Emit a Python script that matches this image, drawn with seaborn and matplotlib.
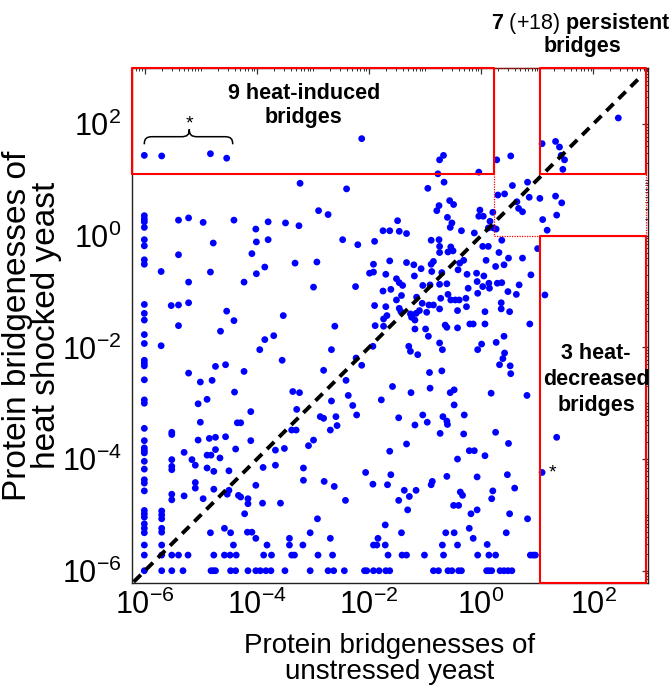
import numpy as np
import pandas as pd
import matplotlib
matplotlib.use("Agg")
import matplotlib.pyplot as plt
import seaborn as sns
from matplotlib.ticker import FixedLocator, LogLocator, NullFormatter, FixedFormatter
from matplotlib.path import Path
from matplotlib.patches import PathPatch

# ---------------- data: log10 of protein bridgeness ----------------
log_unstressed = [
    -6.01, -5.70, -4.83, -4.54, -3.23, -6.01, -6.01, -6.01, -6.01,
    -5.40, -5.22, -4.96, -4.41, -4.02, -3.80, -3.49, -3.25,
    -6.01, -6.01, -4.78, -4.01, -3.80, -6.01, -6.01, -5.40, -4.09,
    -5.71, -4.83, -4.01, -3.86, -3.32, -5.22, -4.23,
    -6.01, -6.01, -6.01, -5.53, -5.40, -5.22, -4.54, -4.41, -3.53,
    -5.40, -4.65, -6.01, -6.01, -5.71, -3.86, -3.70, -3.95,
    -6.01, -6.01, -6.01, -3.55, -4.74, -4.56, -5.22, -4.23,
    -6.01, -5.01, -4.80, -4.40, -3.36, -3.24,
    -6.01, -6.01, -5.05, -4.89, -4.11, -3.29,
    -5.01, -4.35, -4.29, -6.01, -5.52, -5.52, -3.38, -3.30,
    -6.01, -5.05, -4.85, -4.74, -4.56, -4.11, -4.38,
    -6.01, -6.01, -6.01, -5.30, -4.74, -3.67, -3.51,
    -6.01, -5.52, -5.16, -5.10, -4.89, -4.82, -4.66,
    -5.52, -5.52, -6.01, -4.89, -4.77, -4.50, -3.89, -3.67, -3.17, -3.17,
    -6.01, -6.01, -6.01, -5.10, -5.10, -5.30, -5.52, -5.52,
    -4.96, -4.77, -4.53, -4.50, -4.33, -4.29, -4.02, -4.16, -4.16,
    -3.90, -3.58, -4.22, -6.01, -6.01, -6.01, -5.70, -5.70, -5.70,
    -6.01, -6.01, -6.01, -5.70, -5.70,
    -4.83, -4.58, -4.47, -4.17, -4.09, -4.02,
    -6.01, -5.70, -4.42, -3.82, -3.42, -3.42, -3.18,
    -6.01, -5.70, -5.52, -5.40, -5.23, -4.77, -4.58, -4.48, -4.37, -3.88, -3.74, -3.38, -3.33,
    -6.01, -5.70, -5.52, -5.32, -4.82, -4.78, -4.74, -4.47, -4.38, -4.16, -4.02, -3.94, -3.84, -3.75, -3.50,
    -2.47, -2.20, -1.90, -0.89, -0.75, -0.74, -0.74, -0.59, -0.54, -0.50,
    -2.93, -1.92, -1.63, -1.33, -1.20, -1.07, -0.89, -0.85, -0.38, -0.31,
    -1.99, -1.92, -1.70, -1.51, -1.19, -0.88, -0.70, -0.41, -0.25, -0.08,
    -2.99, -2.24, -1.75, -1.61, -1.46, -1.40, -1.04, -0.91, -0.74, -0.61, -0.07, -0.23,
    -1.51, -1.42, -1.15, -0.72, -0.59, -0.54, -0.46, -0.39, -0.27, -0.06,
    -1.05, -0.93, -0.85, -0.74, -1.90, -1.70, -0.26,
    -1.46, -1.43, -1.26, -1.24, -1.16, -1.10, -0.97, -0.42,
    -1.74, -1.68, -1.18, -0.64, -0.61, -0.42, -0.20, -0.14,
    -2.61, -1.89, -1.74, -1.18, -0.99, -0.94, -0.74,
    -2.67, -1.93, -1.29, -1.26, -1.13, -0.69, -0.06,
    -2.23, -2.13, -2.81, -0.70, -0.92,
    -2.41, -1.58, -0.91, -0.48, -0.55,
    -2.37, -1.78, -1.25, -2.67, -2.29, -0.48,
    -2.87, -2.81, -2.59, -2.57, -2.69, -2.22, -2.99, -3.08,
    -1.47, -1.18, -1.04, -0.96, -0.68, -0.61, -0.60, -0.30,
    -0.73, -0.31, -1.33, -1.63, -0.21, -0.12, -0.42,
    -2.06, -1.61, -0.61, -0.07, -2.80, -1.93, -1.67, -2.62,
    -0.87, -0.89, -1.37, -1.16, -1.28, -0.37, -0.33, -2.42, -1.47,
    -0.49, -0.40, -1.31, -0.18, -0.07, -2.92, -1.71, -0.21,
    -3.05, -1.42, -0.63, -0.48, -2.69, -1.84, -0.14,
    -1.92, -1.86, -1.71, -0.69, -0.42,
    -2.91, -2.65, -1.66, -1.41, -1.33, -1.01, -0.67, -0.06,
    -3.05, -2.73, -2.63, -2.44, -2.08, -2.04, -1.92, -1.82, -1.70, -1.63, -0.85, -0.76, -0.59, -0.52, -0.40, -0.35,
    0.26, 0.49, 0.07, 0.47, 0.60, 0.21, 0.19, 0.51, 0.83, 0.45, 0.11,
    0.14, 0.26, 0.88, 0.93, 0.97,
    0.10, 0.14, 0.19, 0.34, 0.41, 0.48, 0.55,
    1.14, 1.09, 1.35,
    0.03, 0.13, 0.37, 0.32, 0.09, 0.49, 0.74, 1.01, 0.26, 0.41,
    0.05, 0.89, 0.14, 0.29, 0.37, 0.03, 0.15, 0.68, 0.48, 0.63,
    0.36, 0.36, 0.51, 0.07, 0.07, 0.87, 0.41, 0.27, 0.01,
    0.42, 0.39, 0.33, 0.52, 0.53, 0.18, 0.82,
    -2.13, -0.74, -0.67, -0.77, -0.66, -2.40, -0.95, -0.04,
    -2.90, -2.73, -0.79, -0.75, -0.56, -0.49, -0.60, -0.52, -0.55, -0.35,
    -1.49, -1.75, -1.63, -1.46, -1.33, -0.12, -0.04,
    2.45, 1.09, 1.33, 1.40, 1.43, 1.49, 1.46,
    0.53, 0.28, 0.56, 0.83, 0.30, 0.42, 0.64, 0.86, 1.05, 1.33, 1.44,
    0.67, 0.74, 1.35, 1.10, 1.18, -0.02, 0.04, 0.21, 0.16, 0.13, 0.22, 0.27,
]

log_heat = [
    1.44, 1.43, 1.47, 1.39, 0.94, 0.36, 0.30, 0.25, 0.15,
    0.28, 0.32, 0.24, 0.28, 0.12, 0.25, 0.23, 0.18,
    -0.07, -0.18, -0.13, -0.11, -0.07, -0.43, -0.51, -0.34, -0.32,
    -0.64, -0.65, -0.68, -0.56, -0.49, -0.83, -0.83,
    -1.23, -1.39, -1.51, -1.25, -1.24, -1.20, -1.35, -1.52, -1.43,
    -1.61, -1.71, -1.77, -1.93, -1.97, -1.86, -1.79, -2.04,
    -2.23, -2.28, -2.33, -2.23, -2.34, -2.31, -2.46, -2.43,
    -2.58, -2.62, -2.59, -2.80, -2.79, -2.81,
    -2.94, -3.00, -3.01, -2.93, -3.15, -3.11,
    -3.34, -3.35, -3.35, -3.45, -3.52, -3.56, -3.48, -3.48,
    -3.67, -3.66, -3.63, -3.61, -3.60, -3.67, -3.82,
    -3.80, -3.85, -3.89, -3.88, -3.83, -3.84, -3.81,
    -4.04, -4.01, -4.01, -4.11, -3.93, -3.93, -3.98,
    -4.13, -4.19, -4.18, -4.16, -4.22, -4.21, -4.15, -4.11, -4.16, -4.38,
    -4.37, -4.43, -4.57, -4.42, -4.52, -4.66, -4.63, -4.73,
    -4.71, -4.54, -4.63, -4.56, -4.65, -4.68, -4.47, -4.71, -4.80,
    -4.79, -4.79, -4.98, -4.92, -4.98, -5.04, -4.93, -5.00, -5.07,
    -5.16, -5.24, -5.32, -5.24, -5.31,
    -5.32, -5.24, -5.32, -5.31, -5.31, -5.42,
    -5.54, -5.54, -5.54, -5.54, -5.42, -5.54, -5.54,
    -5.72, -5.72, -5.72, -5.72, -5.72, -5.72, -5.72, -5.72, -5.72, -5.72, -5.72, -5.72, -5.72,
    -6.00, -6.00, -6.00, -6.00, -6.00, -6.00, -6.00, -6.00, -6.00, -6.00, -6.00, -6.00, -6.00, -6.00, -6.00,
    -0.07, -0.16, -0.10, -0.08, -0.07, -0.19, -0.30, -0.29, -0.20, -0.27,
    -0.47, -0.51, -0.45, -0.48, -0.52, -0.59, -0.51, -0.46, -0.49, -0.44,
    -0.67, -0.65, -0.69, -0.77, -0.72, -0.64, -0.66, -0.61, -0.69, -0.67,
    -0.92, -0.91, -0.99, -0.96, -0.84, -0.89, -0.89, -0.88, -0.87, -0.86, -0.82, -0.94,
    -1.15, -1.07, -1.10, -1.12, -1.05, -1.15, -1.15, -1.15, -1.12, -1.03,
    -1.21, -1.24, -1.24, -1.31, -1.25, -1.27, -1.27,
    -1.30, -1.36, -1.40, -1.46, -1.39, -1.34, -1.37, -1.34,
    -1.49, -1.43, -1.51, -1.60, -1.64, -1.65, -1.58, -1.58,
    -1.62, -1.61, -1.62, -1.67, -1.67, -1.80, -1.92,
    -2.04, -1.98, -1.98, -2.07, -2.13, -2.04, -2.04,
    -2.19, -2.32, -2.41, -2.42, -2.45,
    -2.59, -2.70, -2.73, -2.76, -2.81,
    -2.86, -2.94, -2.81, -2.96, -3.04, -3.03,
    -3.24, -3.27, -3.24, -3.40, -3.48, -3.21, -3.66, -3.76,
    -3.26, -3.39, -3.21, -3.34, -3.24, -3.32, -3.38, -3.21,
    -3.54, -3.55, -3.73, -3.86, -3.85, -3.85, -4.00,
    -4.24, -4.28, -4.31, -4.32, -4.40, -4.45, -4.46, -4.49,
    -4.40, -4.46, -4.56, -4.56, -4.67, -4.59, -4.65, -4.74, -4.74,
    -4.83, -4.83, -4.91, -4.98, -4.91, -5.07, -5.18, -5.24,
    -5.32, -5.32, -5.32, -5.32, -5.42, -5.42, -5.42,
    -5.54, -5.54, -5.54, -5.54, -5.54,
    -5.72, -5.72, -5.72, -5.72, -5.72, -5.72, -5.72, -5.72,
    -6.00, -6.00, -6.00, -6.00, -6.00, -6.00, -6.00, -6.00, -6.00, -6.00, -6.00, -6.00, -6.00, -6.00, -6.00, -6.00,
    -3.52, -3.72, -3.94, -4.28, -4.52, -4.57, -4.71, -4.98, -5.07, -5.32, -5.53,
    -5.72, -5.72, -5.72, -5.72, -5.72,
    -6.00, -6.00, -6.00, -6.00, -6.00, -6.00, -6.00,
    -1.06, -4.24, -3.61,
    -0.19, -0.19, -0.08, -0.30, -0.44, -0.40, -0.40, -0.23, -0.55, -0.52,
    -0.72, -0.70, -0.85, -0.85, -0.84, -0.91, -0.94, -0.88, -1.00, -1.05,
    -1.20, -1.31, -1.36, -1.36, -1.58, -1.58, -1.80, -1.91, -1.94,
    -2.10, -2.20, -2.31, -2.33, -2.47, -2.82, -2.86,
    1.74, 1.36, 1.44, 1.11, 0.96, 0.84, 0.85, 1.14,
    0.45, 0.38, 0.45, 0.54, 0.63, 0.56, 0.33, 0.23, 0.15, 0.09,
    0.27, 0.09, 0.09, 0.08, 0.04, 0.05, 0.35,
    2.11, 1.65, 1.69, 1.59, 1.44, 1.36, 1.19,
    1.43, 1.36, 0.90, 0.96, 0.73, 0.75, 0.61, 0.69, 0.67, 0.71, 0.59,
    0.49, 0.43, 0.37, 0.29, 0.10, 0.46, 0.35, 0.42, 0.26, 0.14, 0.14, 0.12,
]
assert len(log_unstressed) == len(log_heat)

tick_exponents = [-6, -4, -2, 0, 2]
tick_labels = [rf"$\mathregular{{10^{{{e}}}}}$" for e in tick_exponents]

# axis range (log10) and region thresholds (log10)
x_range = (-6.23, 2.98)
y_range = (-6.22, 3.00)
induced_x_max = 0.24
persistent_x_min = 1.05
box_x_max = 2.94
induced_y_min = 1.11
decreased_y_max = 0.0
diag_range = (-6.2, 2.85)

df = pd.DataFrame({"unstressed": 10.0 ** np.array(log_unstressed),
                   "heat": 10.0 ** np.array(log_heat)})

# ---------------- style ----------------
sns.set_theme(style="white")
plt.rcParams["font.family"] = ["Liberation Sans", "DejaVu Sans"]
plt.rcParams["mathtext.fontset"] = "custom"
plt.rcParams["mathtext.rm"] = "Liberation Sans"
plt.rcParams["mathtext.bf"] = "Liberation Sans:bold"
plt.rcParams["mathtext.it"] = "Liberation Sans:italic"
plt.rcParams["mathtext.sf"] = "Liberation Sans"
for k in ("text.color", "axes.labelcolor", "xtick.color", "ytick.color"):
    plt.rcParams[k] = "black"

W, H = 672, 692
fig = plt.figure(figsize=(W / 100, H / 100), dpi=100)
ax = fig.add_axes([132 / W, 1 - 583 / H, 516 / W, (583 - 68.3) / H])
ax.set_xscale("log")
ax.set_yscale("log")

sns.scatterplot(data=df, x="unstressed", y="heat", ax=ax, color="#0000FF",
                s=24, linewidth=0, edgecolor="none", zorder=3, legend=False)

ax.set_xlim(10 ** x_range[0], 10 ** x_range[1])
ax.set_ylim(10 ** y_range[0], 10 ** y_range[1])

# diagonal
d = [10 ** v for v in diag_range]
ax.plot(d, d, color="black", lw=2.8, dashes=(2.6, 1.8), zorder=4)

# region boxes
x0, x1 = 10 ** x_range[0], 10 ** x_range[1]
y0, y1 = 10 ** y_range[0], 10 ** y_range[1]
xi, xp, xb = 10 ** induced_x_max, 10 ** persistent_x_min, 10 ** box_x_max
yi, yd = 10 ** induced_y_min, 10 ** decreased_y_max


def box(xa, xb_, ya, yb, **kw):
    ax.plot([xa, xb_, xb_, xa, xa], [ya, ya, yb, yb, ya], clip_on=False, **kw)


box(xi, xb, yd, y1, color="#FF0000", lw=0.9, linestyle=(0, (1, 1)), zorder=4)
box(x0, xi, yi, y1, color="#FF0000", lw=1.5, zorder=5)
box(xp, xb, yi, y1, color="#FF0000", lw=1.5, zorder=5)
box(xp, xb, y0, yd, color="#FF0000", lw=1.5, zorder=5)

# ticks
for axis in (ax.xaxis, ax.yaxis):
    axis.set_major_locator(FixedLocator([10.0 ** e for e in tick_exponents]))
    axis.set_major_formatter(FixedFormatter(tick_labels))
    axis.set_minor_locator(LogLocator(base=10, subs=np.arange(1, 10), numticks=200))
    axis.set_minor_formatter(NullFormatter())
ax.tick_params(which="both", direction="in", top=True, right=True, color="#333333")
ax.tick_params(which="major", length=4.5, width=0.9)
ax.tick_params(which="minor", length=2.5, width=0.7)
ax.tick_params(axis="x", which="major", labelsize=22, pad=5)
ax.tick_params(axis="y", which="major", labelsize=22, pad=7.5)
for sp in ax.spines.values():
    sp.set_color("#222222")
    sp.set_linewidth(1.0)

ax.set_xlabel("Protein bridgenesses of\nunstressed yeast", fontsize=20, linespacing=1.0)
ax.set_ylabel("Protein bridgenesses of\nheat shocked yeast", fontsize=24, linespacing=0.9)
ax.xaxis.set_label_coords(0.5, (583 - 633) / 514.7)
ax.yaxis.set_label_coords((62 - 132) / 516, 0.5)

# annotations (va='baseline' anchors the last line's baseline)
fig.text(303.7 / W, 1 - 123.3 / H, "9 heat-induced\nbridges", ha="center", va="baseline",
         fontsize=15.5, fontweight="bold", linespacing=1.2)
fig.text(581 / W, 1 - 29.3 / H, r"$\mathbf{7}$ (+18) $\mathbf{persistent}$",
         ha="center", va="baseline", fontsize=15.5)
fig.text(582.5 / W, 1 - 51.7 / H, "bridges", ha="center", va="baseline",
         fontsize=15.5, fontweight="bold")
fig.text(596 / W, 1 - 411 / H, "3 heat-\ndecreased\nbridges", ha="center", va="baseline",
         fontsize=15.5, fontweight="bold", linespacing=1.3)
fig.text(189.3 / W, 1 - 128.6 / H, "*", ha="center", va="baseline", fontsize=14)
fig.text(552.7 / W, 1 - 477 / H, "*", ha="center", va="baseline", fontsize=14)

# curly brace over the starred points
xl, xr, xm = 144.3, 232.7, 189.3
yt, yb_, yc = 144.3, 136.7, 129.3
pts = [(xl, yt), (xl, yb_ + 2), (xl + 2, yb_), (xl + 8, yb_),
       (xm - 8, yb_),
       (xm - 2, yb_), (xm, yb_ - 2), (xm, yc),
       (xm, yb_ - 2), (xm + 2, yb_), (xm + 8, yb_),
       (xr - 8, yb_),
       (xr - 2, yb_), (xr, yb_ + 2), (xr, yt)]
codes = [Path.MOVETO, Path.CURVE4, Path.CURVE4, Path.CURVE4,
         Path.LINETO,
         Path.CURVE4, Path.CURVE4, Path.CURVE4,
         Path.CURVE4, Path.CURVE4, Path.CURVE4,
         Path.LINETO,
         Path.CURVE4, Path.CURVE4, Path.CURVE4]
verts = [(px / W, 1 - py / H) for px, py in pts]
fig.add_artist(PathPatch(Path(verts, codes), transform=fig.transFigure,
                         facecolor="none", edgecolor="black", lw=1.1))

fig.savefig("out.png", dpi=100)
